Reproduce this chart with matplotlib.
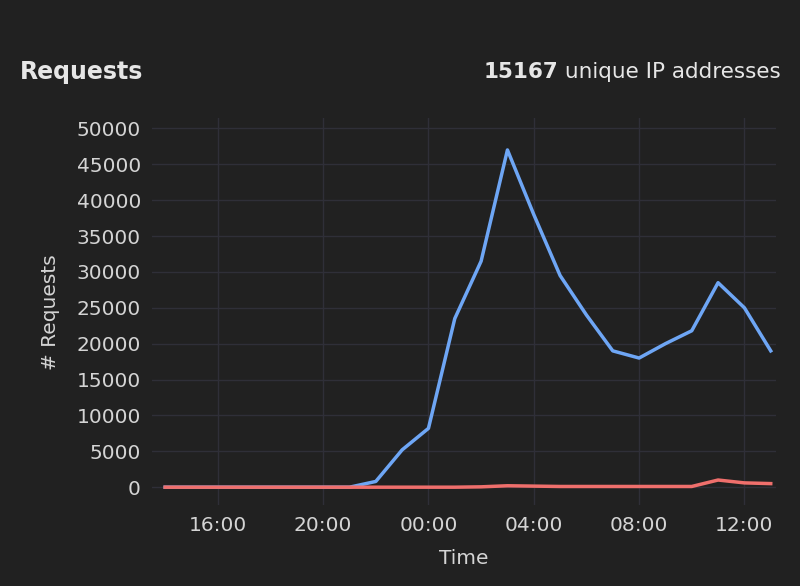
import matplotlib
matplotlib.use('Agg')
import matplotlib.pyplot as plt

# hours since 00:00 of the first day, one point per hour (14:00 .. 13:00)
hours = list(range(14, 38))
requests = [0, 0, 0, 0, 0, 0, 0, 0, 800, 5200, 8200, 23500, 31500, 47000,
            38000, 29500, 24000, 19000, 18000, 20000, 21800, 28500, 25000, 19000]
other = [0, 0, 0, 0, 0, 0, 0, 0, 0, 0, 0, 0, 50, 200,
         150, 100, 100, 100, 100, 100, 100, 1000, 600, 500]
tick_hours = [16, 20, 24, 28, 32, 36]
tick_labels = ['16:00', '20:00', '00:00', '04:00', '08:00', '12:00']

bg = '#212121'
fg = '#d4d4d4'

fig = plt.figure(figsize=(8, 5.86), dpi=100, facecolor=bg)
ax = fig.add_axes([0.19, 0.138, 0.78, 0.66], facecolor=bg)

ax.plot(hours, requests, color='#6ea6f5', lw=2.5, solid_joinstyle='round')
ax.plot(hours, other, color='#ef6f6c', lw=2.5, solid_joinstyle='round')

ax.set_xlim(13.5, 37.2)
ax.set_ylim(-2500, 51400)
ax.set_yticks(range(0, 50001, 5000))
ax.set_xticks(tick_hours)
ax.set_xticklabels(tick_labels)
ax.grid(True, color='#2f2f38', lw=1)
for s in ax.spines.values():
    s.set_visible(False)
ax.tick_params(colors=fg, labelsize=14.5, length=0, pad=8)
ax.set_xlabel('Time', color=fg, fontsize=14.5, labelpad=10)
ax.set_ylabel('# Requests', color=fg, fontsize=14.5, labelpad=12)

fig.text(0.025, 0.877, 'Requests', color='#e6e6e6', fontsize=17, fontweight='bold', va='center')
t = fig.text(0.976, 0.877, ' unique IP addresses', color='#e6e6e6', fontsize=15.5,
             va='center', ha='right')
fig.canvas.draw()
bb = t.get_window_extent().transformed(fig.transFigure.inverted())
fig.text(bb.x0, 0.877, '15167', color='#e6e6e6', fontsize=15.5, fontweight='bold',
         va='center', ha='right')

fig.savefig('out.png', dpi=100, facecolor=bg)
